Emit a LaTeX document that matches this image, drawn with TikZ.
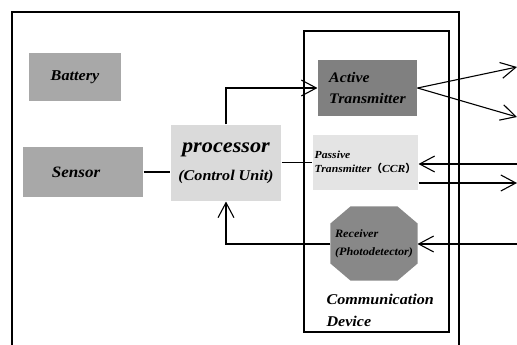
\documentclass[tikz,border=0pt]{standalone}
\usepackage{fontspec}
\setmainfont{Liberation Serif}[FakeStretch=1.08]
\newfontfamily\cjk{Noto Sans CJK SC}
\usetikzlibrary{arrows.meta,positioning,backgrounds}
\definecolor{gray1}{RGB}{168,168,168}
\definecolor{gray2}{RGB}{128,128,128}
\definecolor{gray3}{RGB}{218,218,218}
\definecolor{gray4}{RGB}{228,228,228}
\definecolor{gray5}{RGB}{136,136,136}
\newcommand\fs[2]{\fontsize{#1}{#2}\selectfont\bfseries\itshape}

\begin{document}
\begin{tikzpicture}[x=1pt, y=-1pt, line width=1.1pt,
    box/.style={inner sep=0pt, align=left},
    arr/.style={-{Straight Barb[length=15pt,width=16pt]}}]
    \useasboundingbox (0,0) rectangle (517,345);
    \draw[line width=1.3pt] (12,345) |- (459,12) -- (459,345);

    \node[box, fill=gray1, minimum width=92pt, minimum height=48pt, font=\fs{15}{18}] (battery) at (75,77) {Battery};
    \node[box, fill=gray1, minimum width=120pt, minimum height=50pt, font=\fs{15.8}{18}] (sensor) at (83,172) {Sensor\hspace*{14pt}};
    \node[box, fill=gray3, minimum width=110pt, minimum height=76pt, font=\fs{14.9}{28}, align=center] (proc) at (226,163)
        {{\fontsize{20.6}{28}\selectfont processor}\\(Control Unit)};

    \node[draw, line width=1.2pt, minimum width=145pt, minimum height=301pt] (comm) at (376.5,181.5) {};
    \node[box, fill=gray2, minimum width=99pt, minimum height=56pt, font=\fs{14.6}{21}] (active) at (367.5,88) {Active\\Transmitter};
    \node[box, fill=gray4, minimum width=105pt, minimum height=55pt, font=\fs{10.8}{14}] (passive) at (365.5,162.5)
        {Passive\\Transmitter{\cjk （}CCR{\cjk ）}};
    \node[box, minimum width=86pt, minimum height=73pt, font=\fs{11.3}{18}] (receiver) at (374,243.5)
        {Receiver\\(Photodetector)};
    \begin{scope}[on background layer]
        \fill[gray5] ([xshift=20pt]receiver.north west) -- ([xshift=-20pt]receiver.north east)
            -- ([yshift=-17pt]receiver.north east) -- ([yshift=17pt]receiver.south east)
            -- ([xshift=-20pt]receiver.south east) -- ([xshift=20pt]receiver.south west)
            -- ([yshift=17pt]receiver.south west) -- ([yshift=-17pt]receiver.north west) -- cycle;
    \end{scope}
    \node[box, anchor=west, font=\fs{14.9}{22}] (label) at (326,310) {Communication\\Device};

    \coordinate (out1) at (517,67);
    \coordinate (out2) at (517,117);
    \coordinate (in1) at (517,164);
    \coordinate (out3) at (517,183);
    \coordinate (in2) at (517,244);

    \draw (sensor.east) -- (sensor.east -| proc.west);
    \draw[arr] (proc.north) |- (active.west);
    \draw (passive.west -| proc.east) -- (passive.west);
    \draw[arr] (active.east) -- (out1);
    \draw[arr] (active.east) -- (out2);
    \draw[arr] (in1) -- (in1 -| passive.east);
    \draw[arr] (passive.east |- out3) -- (out3);
    \draw[arr] (in2) -- (in2 -| receiver.east);
    \draw[arr] (receiver.west |- in2) -| (proc.south);
\end{tikzpicture}
\end{document}
